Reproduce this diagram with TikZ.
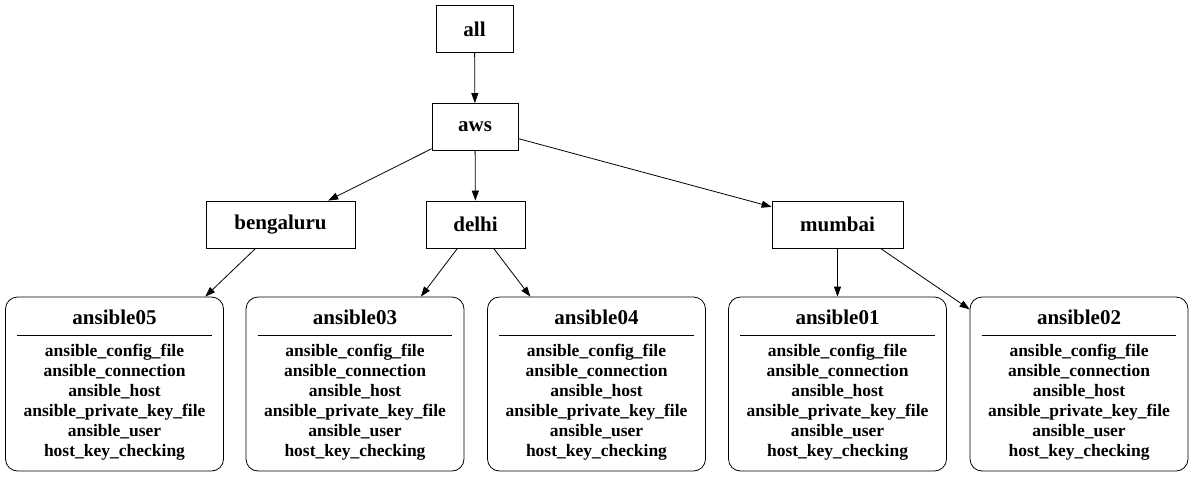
\documentclass[tikz,border=0pt]{standalone}
\usepackage{fontspec}
\setmainfont{Liberation Serif}
\usetikzlibrary{arrows.meta}

\newcommand{\hostvars}{ansible\_config\_file\\ansible\_connection\\ansible\_host\\ansible\_private\_key\_file\\ansible\_user\\host\_key\_checking}

\begin{document}
\begin{tikzpicture}[x=1pt,y=-1pt,line width=0.8pt,>={Triangle[length=10pt,width=7pt]},
	group_node/.style={draw,font=\fontsize{21}{23}\bfseries\selectfont,minimum height=47pt,inner sep=0pt},
	host_node/.style={draw,rounded corners=12pt,minimum width=218pt,minimum height=174pt},
	title_node/.style={font=\fontsize{21}{23}\bfseries\selectfont,inner sep=0pt},
	vars_node/.style={align=center,font=\fontsize{17.5}{20}\bfseries\selectfont,inner sep=0pt}]
	\useasboundingbox (0,0) rectangle (1193,477);
	\node[group_node,minimum width=77pt] (all) at (474.5,29) {all};
	\node[group_node,minimum width=86pt] (aws) at (475,127) {aws};
	\node[group_node,minimum width=149pt] (bengaluru) at (280.5,224.5) {bengaluru};
	\node[group_node,minimum width=99pt] (delhi) at (475.5,224.5) {delhi};
	\node[group_node,minimum width=131pt] (mumbai) at (837.5,224.5) {mumbai};

	\node[host_node] (ansible05) at (114.5,384) {};
	\node[host_node] (ansible03) at (355,384) {};
	\node[host_node] (ansible04) at (596.5,384) {};
	\node[host_node] (ansible01) at (837.5,384) {};
	\node[host_node] (ansible02) at (1079,384) {};

	\foreach \h in {ansible05,ansible03,ansible04,ansible01,ansible02} {
		\node[title_node] (\h_title) at ([yshift=-21pt]\h.north) {\h};
		\draw ([xshift=12pt,yshift=-39pt]\h.north west) -- ([xshift=-12pt,yshift=-39pt]\h.north east);
		\node[vars_node] (\h_vars) at ([yshift=-18pt]\h.center) {\hostvars};
	}

	\draw[->] (all) -- (aws);
	\draw[->] (aws) -- (bengaluru);
	\draw[->] (aws) -- (delhi);
	\draw[->] (aws) -- (mumbai);
	\draw[->] (bengaluru) -- (ansible05);
	\draw[->] (delhi) -- (ansible03);
	\draw[->] (delhi) -- (ansible04);
	\draw[->] (mumbai) -- (ansible01);
	\draw[->] ([xshift=43pt]mumbai.south) -- (ansible02);
\end{tikzpicture}
\end{document}
